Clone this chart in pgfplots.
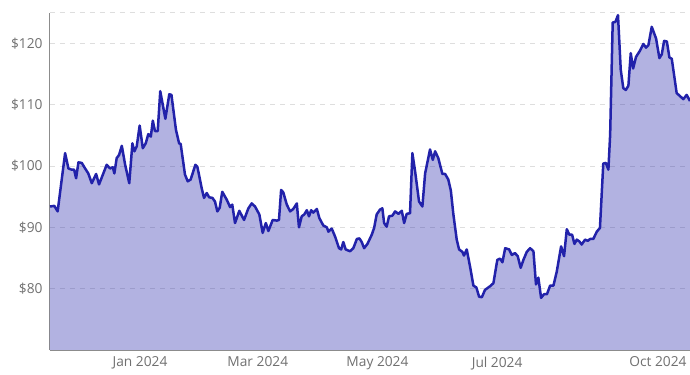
\documentclass[border=0pt]{standalone}
\usepackage{fontspec}
\setmainfont{Open Sans}
\usepackage{pgfplots}
\usepackage{pgfplotstable}
\pgfplotsset{compat=1.18}
\definecolor{lineblue}{RGB}{34,34,170}
\definecolor{gridgray}{RGB}{222,222,222}
\definecolor{axisgray}{RGB}{140,140,140}
\definecolor{labelgray}{RGB}{112,112,112}

% day = days since 2024-01-01, price in USD
\pgfplotstableread{
day price
-45.9 93.4
-43.7 93.5
-42.0 92.6
-38.2 102.1
-36.5 99.6
-34.8 99.4
-33.6 99.4
-32.6 98.0
-31.4 100.6
-29.7 100.5
-28.0 99.6
-26.4 98.8
-24.6 97.2
-22.4 98.7
-20.9 97.0
-17.0 100.2
-15.3 99.6
-13.9 99.8
-13.1 98.8
-11.9 101.3
-10.7 101.8
-9.3 103.3
-7.6 100.2
-5.5 97.2
-3.9 103.7
-2.9 102.4
-1.7 103.2
-0.2 106.6
1.4 102.9
2.9 103.7
4.2 105.2
5.5 104.8
6.5 107.4
7.6 105.7
9.0 105.7
10.3 112.2
12.9 107.7
14.9 111.7
16.0 111.6
18.3 105.9
19.9 103.7
20.7 103.6
22.9 98.6
24.3 97.5
25.8 97.8
28.2 100.2
29.2 99.9
31.4 96.4
32.6 94.8
34.0 95.6
35.2 94.9
36.9 94.8
38.2 94.2
39.4 92.6
40.6 93.2
41.9 95.8
44.2 94.5
45.9 93.3
47.0 93.7
48.4 90.7
50.6 92.7
53.0 91.2
55.2 93.1
56.9 93.9
58.6 93.4
60.8 92.1
62.5 89.1
64.1 90.7
65.4 89.4
67.6 91.2
69.7 91.1
70.8 91.2
71.9 96.1
73.0 95.7
74.8 93.7
76.5 92.6
78.1 93.0
79.9 93.9
81.0 90.0
82.4 91.8
83.7 92.1
85.0 92.8
86.1 91.8
87.2 92.8
88.3 92.4
90.1 93.0
91.4 91.5
93.4 90.3
95.2 90.0
96.0 89.3
97.7 89.8
99.4 88.5
101.4 86.6
102.5 86.4
103.6 87.6
104.8 86.4
107.0 86.1
108.7 86.6
110.5 88.1
111.8 88.2
113.0 87.6
114.2 86.6
115.9 87.3
118.1 88.8
119.3 89.9
120.6 92.1
122.3 92.9
123.5 93.1
124.4 90.7
125.7 90.1
126.9 91.8
128.6 91.9
130.0 92.6
131.7 92.2
133.4 92.7
134.6 90.7
135.9 92.2
137.6 92.3
138.8 102.1
140.2 99.1
142.2 94.2
143.9 93.4
145.3 98.8
147.8 102.7
149.2 101.0
150.4 102.4
152.0 101.3
154.1 98.7
155.5 98.7
157.1 97.8
158.4 96.0
159.7 92.1
161.4 88.0
162.6 86.4
164.3 86.0
165.1 85.4
166.5 86.4
168.2 83.6
169.9 80.5
171.4 80.2
172.8 78.7
174.2 78.6
175.8 79.8
178.4 80.4
180.1 80.9
182.1 84.7
183.5 84.9
184.7 84.3
186.1 86.6
188.1 86.4
189.5 85.5
191.1 85.8
192.5 85.3
194.0 83.4
195.4 84.7
197.1 86.0
198.8 86.6
200.5 86.1
201.8 80.7
203.0 81.8
204.4 78.5
205.9 79.1
207.4 79.1
209.0 80.5
210.7 80.5
212.4 82.8
214.6 86.9
216.1 85.3
217.5 89.7
218.8 88.8
220.2 88.8
221.4 87.3
222.6 88.0
223.9 87.7
225.1 87.2
226.8 88.0
228.2 87.8
229.4 88.1
231.0 88.1
232.8 89.3
234.4 89.9
236.1 100.4
237.4 100.5
238.7 99.4
239.6 105.1
240.9 123.4
242.3 123.5
243.6 124.6
245.0 115.7
246.3 112.7
247.6 112.4
248.9 113.1
250.1 118.4
251.3 115.9
252.8 117.8
254.8 118.8
256.5 119.9
257.9 119.3
259.1 119.7
260.8 122.7
263.0 120.8
264.7 117.6
265.9 118.2
267.1 120.4
268.5 120.3
269.8 117.7
271.0 117.5
273.5 111.9
275.2 111.4
276.9 110.9
278.6 111.6
280.3 110.6
}\prices

\begin{document}
\begin{tikzpicture}
\begin{axis}[
  at={(0,0)}, anchor=south west,
  scale only axis, width=640bp, height=337.3bp,
  xmin=-45.9, xmax=280.3, ymin=70, ymax=125,
  axis x line*=bottom, axis y line*=left,
  axis line style={draw=axisgray, line width=1bp, -},
  xtick={0,60,121,182},
  xticklabels={Jan 2024,Mar 2024,May 2024,Jul 2024},
  extra x ticks={280.3}, extra x tick labels={Oct 2024},
  extra x tick style={xticklabel style={anchor=north east}},
  ytick={80,90,100,110,120},
  yticklabels={\$80,\$90,\$100,\$110,\$120},
  extra y ticks={125}, extra y tick labels={},
  ymajorgrids,
  major grid style={draw=gridgray, dash pattern=on 5bp off 5bp, line width=0.9bp},
  major tick length=0pt,
  tick label style={font=\fontsize{13.8}{16.5}\selectfont, text=labelgray},
  xticklabel style={yshift=-3.5bp},
  yticklabel style={xshift=-4bp},
]
\addplot[draw=none, fill=lineblue, fill opacity=0.35] table[x=day, y=price] {\prices} \closedcycle;
\addplot[draw=lineblue, line width=2.5bp, line join=round] table[x=day, y=price] {\prices};
\end{axis}
\pgfresetboundingbox
\path[use as bounding box] (-50bp,-25bp) rectangle (640bp,350bp);
\end{tikzpicture}
\end{document}
